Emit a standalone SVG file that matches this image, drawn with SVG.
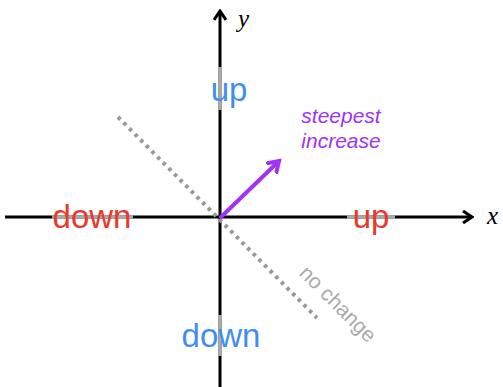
<svg xmlns="http://www.w3.org/2000/svg" width="503" height="387" viewBox="0 0 503 387">
<style>
.axis{stroke:#000;stroke-width:3;fill:none}
.hl{stroke:#aaa;stroke-width:3.5;fill:none}
.lbl{font-family:"Liberation Sans",Arial,sans-serif;font-size:33px;text-anchor:middle}
.red{fill:#e8392b}
.blue{fill:#3f8ef2}
.var{font-family:"Liberation Serif","Times New Roman",serif;font-style:italic;font-size:25px}
</style>
<defs>
<marker id="ah" markerWidth="12" markerHeight="14" refX="10" refY="7" orient="auto" markerUnits="userSpaceOnUse">
<path d="M1,1 L10,7 L1,13" fill="none" stroke="#000" stroke-width="3"/>
</marker>
<marker id="ahp" markerWidth="14" markerHeight="16" refX="11" refY="8" orient="auto" markerUnits="userSpaceOnUse">
<path d="M1,1.5 L11,8 L1,14.5" fill="none" stroke="#a033f5" stroke-width="4" stroke-linecap="round"/>
</marker>
</defs>
<g id="connectors">
<line id="x-axis" class="axis" x1="5" y1="217" x2="472" y2="217" marker-end="url(#ah)"/>
<line id="y-axis" class="axis" x1="220" y1="387" x2="220" y2="11" marker-end="url(#ah)"/>
<line class="hl" x1="52" y1="217" x2="133" y2="217"/>
<line class="hl" x1="347" y1="217" x2="395" y2="217"/>
<line class="hl" x1="220" y1="67" x2="220" y2="110"/>
<line class="hl" x1="220" y1="315" x2="220" y2="356"/>
<line id="no-change-line" x1="118" y1="117" x2="317" y2="318" stroke="#999" stroke-width="4" stroke-dasharray="3.5 4.5"/>
<line id="gradient" x1="221" y1="217" x2="279" y2="161" stroke="#a033f5" stroke-width="4" stroke-linecap="round" marker-end="url(#ahp)"/>
</g>
<g id="label-x"><text class="var" x="487" y="224">x</text></g>
<g id="label-y"><text class="var" x="238" y="27">y</text></g>
<g id="up-y"><text class="lbl blue" x="229" y="101">up</text></g>
<g id="down-y"><text class="lbl blue" x="221" y="347">down</text></g>
<g id="down-x"><text class="lbl red" x="92" y="228">down</text></g>
<g id="up-x"><text class="lbl red" x="371" y="228">up</text></g>
<g id="steepest"><text font-family="'Liberation Sans',Arial,sans-serif" font-style="italic" font-size="21" fill="#a033f5" text-anchor="middle"><tspan x="341" y="123">steepest</tspan><tspan x="341" y="148">increase</tspan></text></g>
<g id="no-change"><text font-family="'Liberation Sans',Arial,sans-serif" font-size="21" fill="#aaa" text-anchor="middle" transform="translate(333 309) rotate(45)">no change</text></g>
</svg>
